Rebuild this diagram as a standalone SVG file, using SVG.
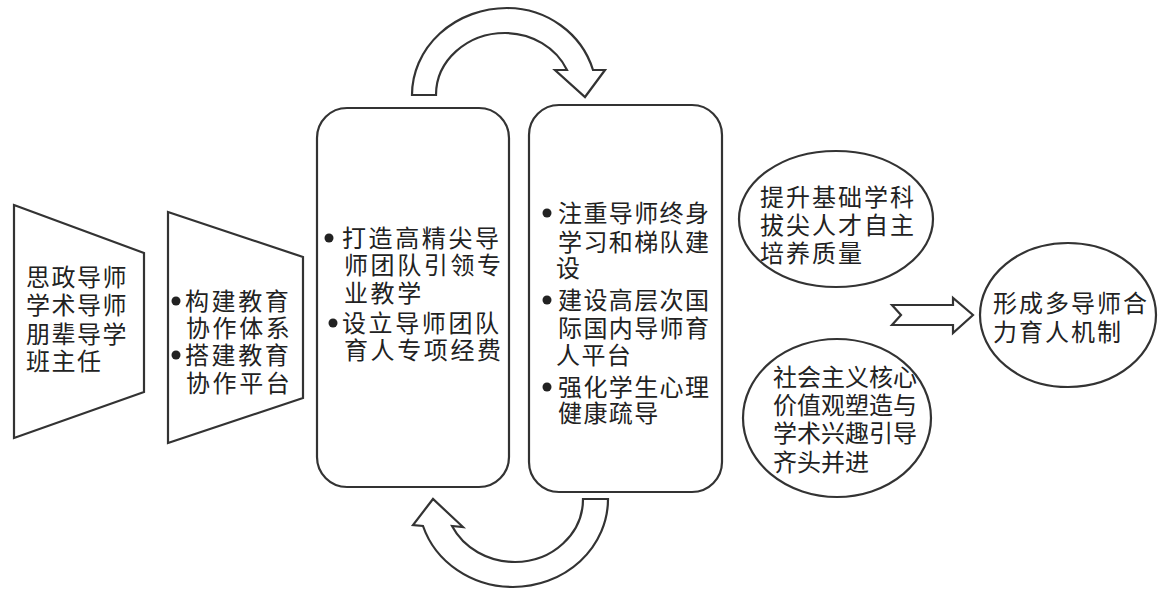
<svg xmlns="http://www.w3.org/2000/svg" width="1164" height="591" viewBox="0 0 1164 591">
<style>
.s{fill:#fff;stroke:#333;stroke-width:2.2;stroke-linejoin:miter}
.t{font-family:"Liberation Sans","Noto Sans CJK SC","Noto Sans CJK JP",sans-serif;font-size:24px;fill:#222}
.b{fill:#222}
</style>
<rect width="1164" height="591" fill="#fff"/>
<g id="connectors">
<path class="s" d="M412,95 A95,87 0 0 1 507,8 A90,87 0 0 1 593,70 L605,70 L585,97 L555,70 L567,70 A68,62 0 0 0 505,33 A69,62 0 0 0 436,95 Z"/>
<path class="s" d="M608,499 A95,88 0 0 1 513,587 A94.5,88 0 0 1 423,526 L413,525 L433,499 L463,527 L452,526 A70,63 0 0 0 515,562 A68,63 0 0 0 583,499 Z"/>
<polygon class="s" points="892,305 953,305 953,298 973,315 953,333 953,325 892,325 901,315"/>
</g>
<g id="node-roles">
<polygon class="s" points="14,205 144,253 144,392 14,438"/>
<text class="t" letter-spacing="1.5"><tspan x="26" y="286">思政导师</tspan><tspan x="26" y="314">学术导师</tspan><tspan x="26" y="343">朋辈导学</tspan><tspan x="26" y="370">班主任</tspan></text>
</g>
<g id="node-system">
<polygon class="s" points="168,212 303,257 303,398 168,443"/>
<circle class="b" cx="176" cy="301" r="4.5"/>
<circle class="b" cx="176" cy="355" r="4.5"/>
<text class="t" letter-spacing="2.6"><tspan x="185" y="310">构建教育</tspan><tspan x="186" y="337">协作体系</tspan><tspan x="185" y="364">搭建教育</tspan><tspan x="186" y="392">协作平台</tspan></text>
</g>
<g id="node-team">
<rect class="s" x="317" y="108" width="192" height="379" rx="30" ry="30"/>
<circle class="b" cx="329" cy="238" r="4.5"/>
<circle class="b" cx="333" cy="323" r="4.5"/>
<text class="t" letter-spacing="2.6"><tspan x="342" y="247">打造高精尖导</tspan><tspan x="344" y="274">师团队引领专</tspan><tspan x="344" y="302">业教学</tspan><tspan x="342" y="332">设立导师团队</tspan><tspan x="344" y="359">育人专项经费</tspan></text>
</g>
<g id="node-platform">
<rect class="s" x="529" y="105" width="193" height="387" rx="30" ry="30"/>
<circle class="b" cx="547" cy="213" r="4.5"/>
<circle class="b" cx="547" cy="300" r="4.5"/>
<circle class="b" cx="547" cy="387" r="4.5"/>
<text class="t" letter-spacing="1.4"><tspan x="558" y="222">注重导师终身</tspan><tspan x="558" y="251">学习和梯队建</tspan><tspan x="556" y="277">设</tspan><tspan x="558" y="309">建设高层次国</tspan><tspan x="558" y="337">际国内导师育</tspan><tspan x="556" y="364">人平台</tspan><tspan x="558" y="396">强化学生心理</tspan><tspan x="558" y="422">健康疏导</tspan></text>
</g>
<g id="node-quality">
<ellipse class="s" cx="836" cy="219" rx="97" ry="68"/>
<text class="t" letter-spacing="2"><tspan x="760" y="206">提升基础学科</tspan><tspan x="760" y="234">拔尖人才自主</tspan><tspan x="760" y="262">培养质量</tspan></text>
</g>
<g id="node-values">
<ellipse class="s" cx="837" cy="418" rx="94" ry="79"/>
<text class="t" letter-spacing="0"><tspan x="773" y="386">社会主义核心</tspan><tspan x="773" y="414">价值观塑造与</tspan><tspan x="773" y="442">学术兴趣引导</tspan><tspan x="773" y="471">齐头并进</tspan></text>
</g>
<g id="node-mechanism">
<ellipse class="s" cx="1068" cy="315" rx="88" ry="72"/>
<text class="t" letter-spacing="2"><tspan x="993" y="312">形成多导师合</tspan><tspan x="993" y="341">力育人机制</tspan></text>
</g>
</svg>
